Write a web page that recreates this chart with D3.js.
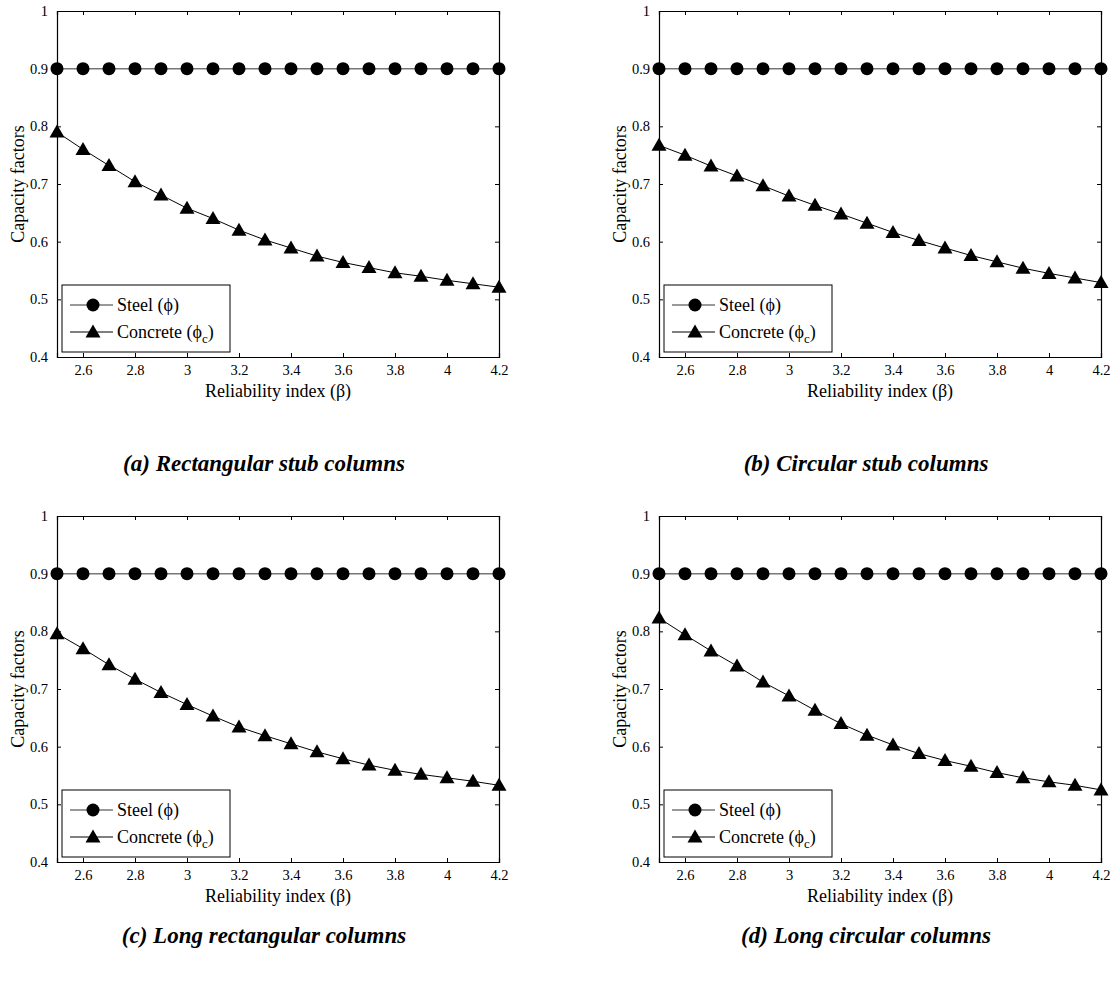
<!DOCTYPE html>
<html>
<head>
<meta charset="utf-8">
<script src="https://cdn.jsdelivr.net/npm/d3@7"></script>
<style>
  body { margin: 0; background: #fff; }
  svg { display: block; }
</style>
</head>
<body>
<div id="chart"></div>
<script>
// reliability index values (x)
var betaValues = [2.5, 2.6, 2.7, 2.8, 2.9, 3.0, 3.1, 3.2, 3.3, 3.4, 3.5, 3.6, 3.7, 3.8, 3.9, 4.0, 4.1, 4.2];
// steel capacity factor, same in all four panels
var steelValues = [0.9, 0.9, 0.9, 0.9, 0.9, 0.9, 0.9, 0.9, 0.9, 0.9, 0.9, 0.9, 0.9, 0.9, 0.9, 0.9, 0.9, 0.9];
// concrete capacity factors per panel
var concreteA = [0.790, 0.760, 0.732, 0.704, 0.681, 0.658, 0.640, 0.620, 0.603, 0.589, 0.575, 0.564, 0.555, 0.546, 0.540, 0.533, 0.527, 0.521];
var concreteB = [0.767, 0.750, 0.731, 0.714, 0.697, 0.679, 0.663, 0.648, 0.632, 0.616, 0.602, 0.589, 0.576, 0.565, 0.554, 0.545, 0.537, 0.529];
var concreteC = [0.796, 0.770, 0.742, 0.717, 0.694, 0.673, 0.653, 0.634, 0.619, 0.605, 0.591, 0.579, 0.568, 0.559, 0.552, 0.546, 0.540, 0.533];
var concreteD = [0.823, 0.794, 0.766, 0.740, 0.712, 0.688, 0.663, 0.640, 0.620, 0.603, 0.588, 0.576, 0.566, 0.555, 0.546, 0.539, 0.533, 0.525];
var captions = ["(a) Rectangular stub columns", "(b) Circular stub columns",
                "(c) Long rectangular columns", "(d) Long circular columns"];
var xTicks = [2.6, 2.8, 3.0, 3.2, 3.4, 3.6, 3.8, 4.0, 4.2];
var yTicks = [0.4, 0.5, 0.6, 0.7, 0.8, 0.9, 1.0];

var FONT = "'Liberation Serif', 'Times New Roman', Times, serif";
var totalW = 1112, totalH = 982;
var plotW = 442, plotH = 346;
var panels = [
    {left: 57,  top: 11,  capY: 471, concrete: concreteA},
    {left: 659, top: 11,  capY: 471, concrete: concreteB},
    {left: 57,  top: 516, capY: 943, concrete: concreteC},
    {left: 659, top: 516, capY: 943, concrete: concreteD}
];

var svg = d3.select("#chart").append("svg")
    .attr("width", totalW)
    .attr("height", totalH)
    .style("font-family", FONT);

var x = d3.scaleLinear().domain([2.5, 4.2]).range([0, plotW]);
var y = d3.scaleLinear().domain([0.4, 1.0]).range([plotH, 0]);

function fmt(d) { return d3.format("~g")(d); }

function drawTriangle(g, cx, cy) {
    g.append("path")
        .attr("d", "M" + cx + "," + (cy - 7.5) + "L" + (cx + 7.5) + "," + (cy + 5.5) + "L" + (cx - 7.5) + "," + (cy + 5.5) + "Z")
        .attr("fill", "#000");
}

function addText(sel, size) {
    return sel.append("text")
        .attr("font-family", FONT)
        .style("font-family", FONT)
        .style("font-size", size + "px")
        .attr("fill", "#000");
}

panels.forEach(function(p, i) {
    var g = svg.append("g")
        .attr("transform", "translate(" + p.left + "," + p.top + ")");

    // axes with inward ticks, boxed like MATLAB
    g.append("g")
        .attr("transform", "translate(0," + plotH + ")")
        .call(d3.axisBottom(x).tickValues(xTicks).tickSize(-4).tickPadding(8).tickFormat(fmt));
    g.append("g")
        .call(d3.axisTop(x).tickValues(xTicks).tickSize(-4).tickFormat(""));
    g.append("g")
        .call(d3.axisLeft(y).tickValues(yTicks).tickSize(-4).tickPadding(9).tickFormat(fmt));
    g.append("g")
        .attr("transform", "translate(" + plotW + ",0)")
        .call(d3.axisRight(y).tickValues(yTicks).tickSize(-4).tickFormat(""));

    g.selectAll(".domain").attr("stroke", "#000").attr("stroke-width", 1.2);
    g.selectAll(".tick line").attr("stroke", "#000");
    g.selectAll(".tick text")
        .attr("font-family", FONT)
        .style("font-family", FONT)
        .style("font-size", "14.5px")
        .attr("fill", "#000");

    var line = d3.line()
        .x(function(d) { return x(d[0]); })
        .y(function(d) { return y(d[1]); });

    var steel = betaValues.map(function(b, k) { return [b, steelValues[k]]; });
    var conc = betaValues.map(function(b, k) { return [b, p.concrete[k]]; });

    g.append("path")
        .datum(steel)
        .attr("fill", "none")
        .attr("stroke", "#777")
        .attr("stroke-width", 1.5)
        .attr("d", line);

    g.selectAll(".steel")
        .data(steel)
        .enter().append("circle")
        .attr("cx", function(d) { return x(d[0]); })
        .attr("cy", function(d) { return y(d[1]); })
        .attr("r", 6.5)
        .attr("fill", "#000");

    g.append("path")
        .datum(conc)
        .attr("fill", "none")
        .attr("stroke", "#000")
        .attr("stroke-width", 1)
        .attr("d", line);

    conc.forEach(function(d) { drawTriangle(g, x(d[0]), y(d[1])); });

    // legend
    var lg = g.append("g").attr("transform", "translate(5,274)");
    lg.append("rect")
        .attr("width", 168).attr("height", 67)
        .attr("fill", "#fff").attr("stroke", "#000").attr("stroke-width", 1);
    lg.append("line").attr("x1", 8).attr("x2", 51).attr("y1", 20).attr("y2", 20)
        .attr("stroke", "#777").attr("stroke-width", 1.5);
    lg.append("circle").attr("cx", 31).attr("cy", 20).attr("r", 6.5).attr("fill", "#000");
    addText(lg, 18).attr("x", 55).attr("y", 26).text("Steel (\u03D5)");
    lg.append("line").attr("x1", 8).attr("x2", 51).attr("y1", 47).attr("y2", 47)
        .attr("stroke", "#000").attr("stroke-width", 1);
    drawTriangle(lg, 31, 47);
    var ct = addText(lg, 18).attr("x", 55).attr("y", 53);
    ct.append("tspan").text("Concrete (\u03D5");
    ct.append("tspan").attr("dy", 5).style("font-size", "13px").text("c");
    ct.append("tspan").attr("dy", -5).text(")");

    // axis labels
    addText(g, 18)
        .attr("x", plotW / 2).attr("y", plotH + 40)
        .attr("text-anchor", "middle")
        .text("Reliability index (\u03B2)");
    addText(g, 18)
        .attr("transform", "translate(-33," + (plotH / 2) + ") rotate(-90)")
        .attr("text-anchor", "middle")
        .text("Capacity factors");

    // caption
    addText(svg, 23)
        .attr("x", p.left + plotW / 2 - 14).attr("y", p.capY)
        .attr("text-anchor", "middle")
        .style("font-weight", "bold")
        .style("font-style", "italic")
        .text(captions[i]);
});
</script>
</body>
</html>
